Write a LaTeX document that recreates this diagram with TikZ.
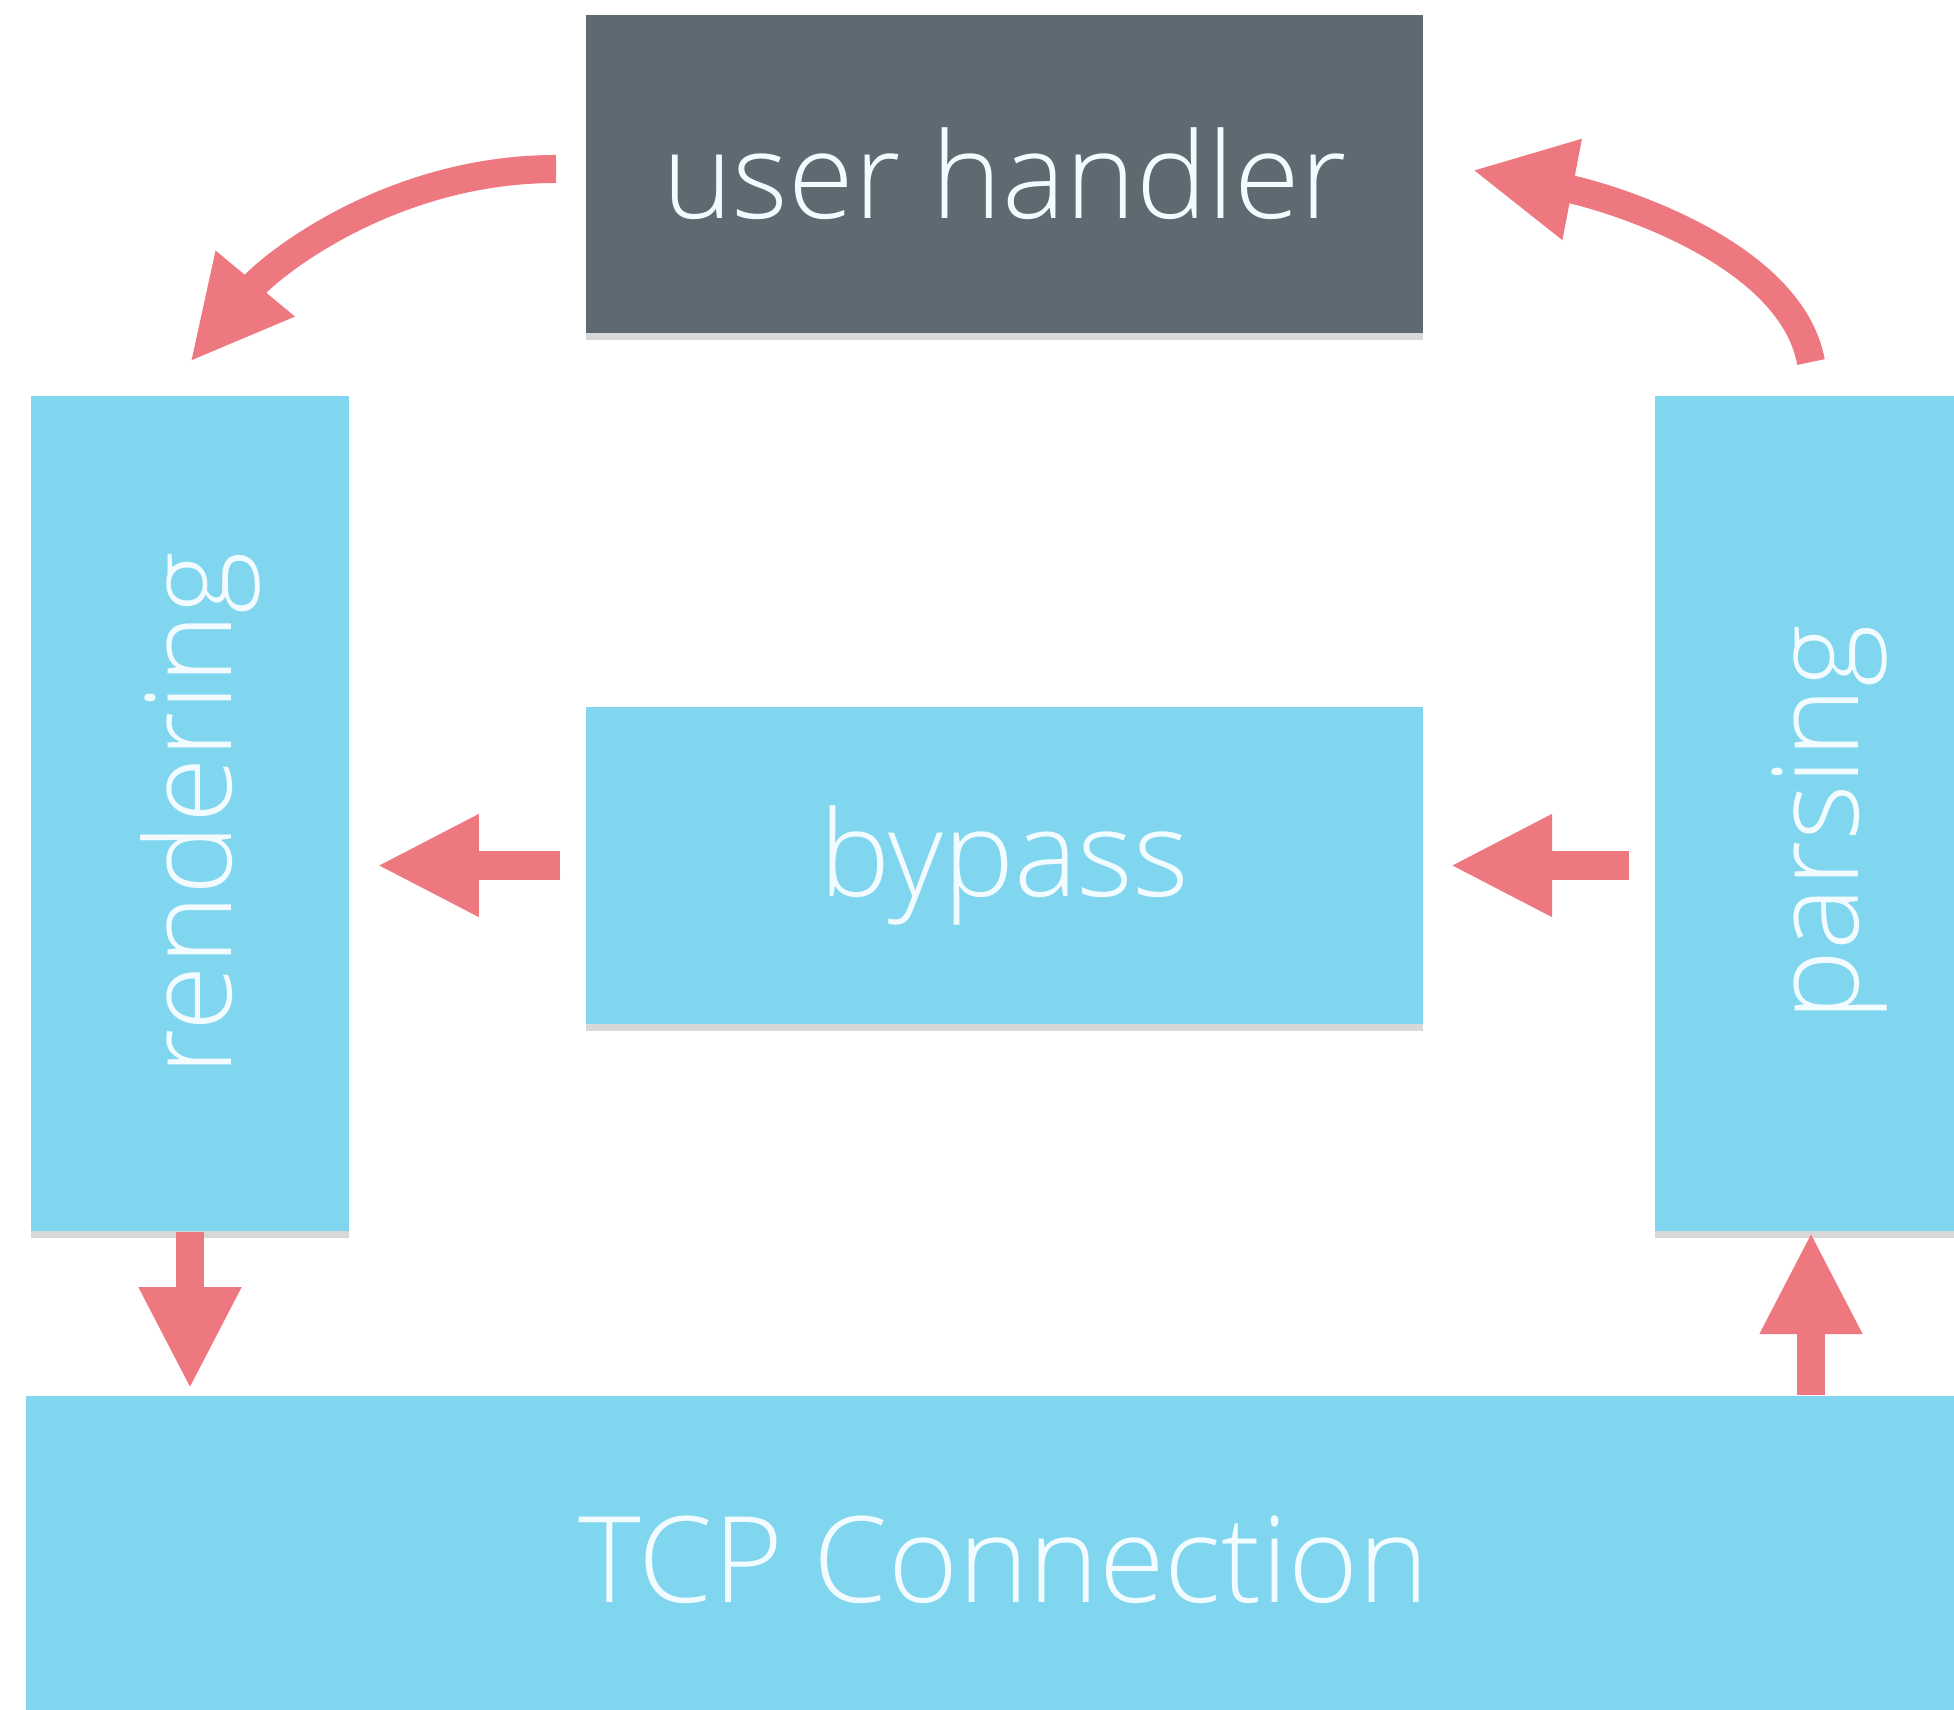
\documentclass[tikz,border=0pt]{standalone}
\usepackage{fontspec}
\setmainfont{Open Sans}[UprightFont={* Light}]
\usetikzlibrary{arrows.meta,shadows}
\definecolor{boxblue}{HTML}{80D6EE}
\definecolor{boxgray}{HTML}{5E6A72}
\definecolor{arrowred}{HTML}{EE7880}
\definecolor{labelwhite}{HTML}{F2FBFF}
\tikzset{
  lbl/.style={text=labelwhite, inner sep=0pt, font=\fontsize{34}{37}\selectfont},
  box/.style={lbl, rectangle, fill=boxblue, draw=none,
    drop shadow={shadow xshift=0pt, shadow yshift=-0.07cm, opacity=0.25, fill=black!60}},
  darkbox/.style={box, fill=boxgray},
  arr/.style={draw=arrowred, line width=0.28cm, -{Triangle[width=0.95cm, length=1.02cm]}}
}
\begin{document}
\begin{tikzpicture}[x=0.01cm, y=-0.01cm]
\useasboundingbox (0,0) rectangle (1954,1710);
\clip (0,0) rectangle (1954,1710);
\fill[white] (0,0) rectangle (1954,1710);
\node[darkbox, minimum width=8.37cm, minimum height=3.18cm] (uh) at (1004.5,174) {user handler};
\node[box, minimum width=3.18cm, minimum height=8.35cm] (rend) at (190,813.5) {};
\node[lbl, rotate=90] (rendlbl) at ([xshift=0.1cm]rend.center) {rendering};
\node[box, minimum width=3.12cm, minimum height=8.35cm] (pars) at (1811,813.5) {};
\node[lbl, rotate=90] (parslbl) at ([xshift=0.18cm, yshift=-0.1cm]pars.center) {parsing};
\node[box, minimum width=8.37cm, minimum height=3.17cm] (by) at (1004.5,865.5) {bypass};
\node[box, minimum width=19.54cm, minimum height=3.28cm] (tcp) at (1004,1560) {TCP Connection};
\coordinate (rendbot) at (rend.south |- tcp.north);
\coordinate (parsbot) at (pars.south |- tcp.north);
\coordinate (rendside) at (rend.east |- by.west);
\coordinate (parsside) at (pars.west |- by.east);
\draw[arr] ([xshift=-0.29cm, yshift=0.05cm]uh.west) .. controls +(-167,0) and +(79,-95) .. ([yshift=0.33cm]rend.north);
\draw[arr] ([yshift=0.33cm]pars.north) .. controls +(-21,-113) and +(129,25) .. ([xshift=0.48cm, yshift=0.04cm]uh.east);
\draw[arr] ([xshift=-0.25cm]by.west) -- ([xshift=0.27cm]rendside);
\draw[arr] ([xshift=-0.25cm]parsside) -- ([xshift=0.26cm]by.east);
\draw[arr] (rend.south) -- ([yshift=0.06cm]rendbot);
\draw[arr] (parsbot) -- (pars.south);
\end{tikzpicture}
\end{document}
